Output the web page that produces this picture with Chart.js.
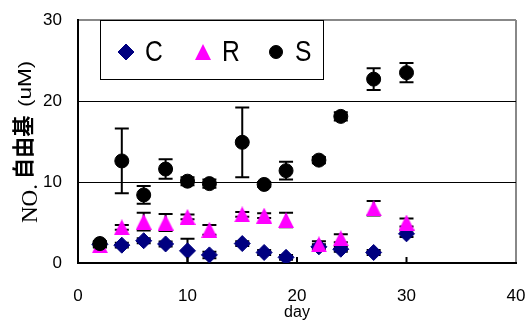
<!DOCTYPE html>
<html>
<head>
<meta charset="utf-8">
<script src="https://cdn.jsdelivr.net/npm/chart.js@4.4.1/dist/chart.umd.min.js"></script>
<style>
  html, body { margin: 0; padding: 0; background: #fff; }
  #wrap { width: 526px; height: 320px; }
</style>
</head>
<body>
<div id="wrap"><canvas id="chart" width="526" height="320"></canvas></div>
<script>
var days  = [2, 4, 6, 8, 10, 12, 15, 17, 19, 22, 24, 27, 30];
var cVals = [2.3, 2.2, 2.75, 2.35, 1.5, 1.0, 2.4, 1.3, 0.7, 2.0, 1.7, 1.3, 3.6];
var cErr  = [0.3, 0.3, 0.3, 0.3, 1.5, 0.4, 0.3, 0.3, 0.3, 0.3, 0.3, 0.3, 0.4];
var rVals = [2.2, 4.4, 5.1, 5.0, 5.7, 4.1, 6.0, 5.85, 5.3, 2.3, 3.05, 6.75, 5.0];
var rErr  = [0.3, 0.3, 1.1, 1.05, 0.3, 0.6, 0.3, 0.3, 0.9, 0.4, 0.5, 0.9, 0.5];
var sVals = [2.4, 12.6, 8.4, 11.6, 10.1, 9.8, 14.9, 9.7, 11.4, 12.7, 18.1, 22.7, 23.5];
var sErr  = [0.3, 4.0, 1.1, 1.2, 0.5, 0.5, 4.3, 0.3, 1.1, 0.4, 0.5, 1.35, 1.2];
var xTicks = [0, 10, 20, 30, 40];
var yTicks = [0, 10, 20, 30];

function points(vals, errs){
    var out = [];
    for(var i = 0; i < days.length; i++){
        out.push({x: days[i], y: vals[i], err: errs[i]});
    }
    return out;
}

// the R marker is a bit taller than an equilateral triangle
function makeTriangle(){
    var c = document.createElement('canvas');
    c.width = 16; c.height = 16;
    var g = c.getContext('2d');
    g.fillStyle = '#ff00ff';
    g.beginPath();
    g.moveTo(8, 0);
    g.lineTo(16, 16);
    g.lineTo(0, 16);
    g.closePath();
    g.fill();
    return c;
}
var triangleImg = makeTriangle();

// error bars, drawn under the markers
var errorBars = {
    id: 'errorBars',
    beforeDatasetsDraw: function(chart){
        var ctx = chart.ctx;
        var xs = chart.scales.x, ys = chart.scales.y;
        ctx.save();
        ctx.strokeStyle = '#000';
        ctx.lineWidth = 2;
        chart.data.datasets.forEach(function(ds){
            ds.data.forEach(function(p){
                var px = xs.getPixelForValue(p.x);
                var top = ys.getPixelForValue(p.y + p.err);
                var bot = ys.getPixelForValue(Math.max(0, p.y - p.err));
                ctx.beginPath();
                ctx.moveTo(px, top); ctx.lineTo(px, bot);
                ctx.moveTo(px - 7, top); ctx.lineTo(px + 7, top);
                ctx.moveTo(px - 7, bot); ctx.lineTo(px + 7, bot);
                ctx.stroke();
            });
        });
        ctx.restore();
    }
};

// legend box, y axis title, inner ticks
var decorations = {
    id: 'decorations',
    afterDraw: function(chart){
        var ctx = chart.ctx;
        var area = chart.chartArea;
        var xs = chart.scales.x;
        ctx.save();

        ctx.strokeStyle = '#000';
        ctx.lineWidth = 2;
        [10, 20, 30].forEach(function(v){
            var px = xs.getPixelForValue(v);
            ctx.beginPath();
            ctx.moveTo(px, area.bottom);
            ctx.lineTo(px, area.bottom - 6);
            ctx.stroke();
        });

        // legend
        ctx.fillStyle = '#fff';
        ctx.fillRect(100, 20, 223, 59);
        ctx.lineWidth = 1;
        ctx.strokeStyle = '#000';
        ctx.strokeRect(100.5, 20.5, 223, 59);
        var items = [
            {label: 'C', style: 'rectRot', color: '#000080', r: 8, x: 126},
            {label: 'R', style: triangleImg, color: '#ff00ff', r: 8, x: 203},
            {label: 'S', style: 'circle', color: '#000', r: 6.5, x: 276}
        ];
        items.forEach(function(it){
            ctx.fillStyle = it.color;
            ctx.strokeStyle = it.color;
            Chart.helpers.drawPoint(ctx, {pointStyle: it.style, radius: it.r, borderWidth: 1}, it.x, 52);
            ctx.fillStyle = '#000';
            ctx.font = '29px "Liberation Sans", Arial, sans-serif';
            ctx.textBaseline = 'middle';
            ctx.textAlign = 'left';
            ctx.save();
            ctx.translate(it.x + 19, 53);
            ctx.scale(0.85, 1);
            ctx.fillText(it.label, 0, 0);
            ctx.restore();
        });

        // y axis title in mixed fonts
        var parts = [
            {text: 'NO.', font: '23px "Liberation Serif", "Times New Roman", serif', x: 31, y: 223, sx: 1},
            {text: '自由基', font: 'bold 22px "Noto Sans CJK SC", sans-serif', x: 23, y: 179, sx: 0.96},
            {text: '(uM)', font: '18px "Liberation Sans", Arial, sans-serif', x: 26, y: 107, sx: 1.25}
        ];
        ctx.fillStyle = '#000';
        ctx.textBaseline = 'middle';
        ctx.textAlign = 'left';
        parts.forEach(function(p){
            ctx.save();
            ctx.translate(p.x, p.y);
            ctx.rotate(-Math.PI / 2);
            ctx.scale(p.sx, 1);
            ctx.font = p.font;
            ctx.fillText(p.text, 0, 0);
            ctx.restore();
        });
        ctx.restore();
    }
};

var ctx = document.getElementById('chart').getContext('2d');
var chart = new Chart(ctx, {
    type: 'scatter',
    data: {
        datasets: [
            {label: 'C', data: points(cVals, cErr), pointStyle: 'rectRot', pointRadius: 8,
             backgroundColor: '#000080', borderColor: '#000080', borderWidth: 1, order: 3},
            {label: 'R', data: points(rVals, rErr), pointStyle: triangleImg, pointRadius: 8,
             backgroundColor: '#ff00ff', borderColor: '#ff00ff', borderWidth: 1, order: 2},
            {label: 'S', data: points(sVals, sErr), pointStyle: 'circle', pointRadius: 7,
             backgroundColor: '#000', borderColor: '#000', borderWidth: 1, order: 1}
        ]
    },
    options: {
        responsive: false,
        animation: false,
        events: [],
        layout: {padding: {left: 0, top: 20, right: 10, bottom: 0}},
        plugins: {legend: {display: false}, tooltip: {enabled: false}},
        scales: {
            x: {
                type: 'linear', min: 0, max: 40,
                afterFit: function(s){ s.height = 57; s.paddingLeft = 0; s.paddingRight = 0; },
                afterBuildTicks: function(s){ s.ticks = xTicks.map(function(v){ return {value: v}; }); },
                border: {color: '#000', width: 2},
                grid: {
                    drawTicks: false, lineWidth: 2,
                    color: function(c){ return c.tick && c.tick.value === 40 ? '#888' : 'rgba(0,0,0,0)'; }
                },
                ticks: {padding: 23, color: '#000', font: {family: '"Liberation Sans", Arial, sans-serif', size: 17}},
                title: {display: true, text: 'day', color: '#000', padding: {top: 0, bottom: -2},
                        font: {family: '"Liberation Sans", Arial, sans-serif', size: 16}}
            },
            y: {
                type: 'linear', min: 0, max: 30,
                afterFit: function(s){ s.width = 78; s.paddingTop = 0; s.paddingBottom = 0; },
                afterBuildTicks: function(s){ s.ticks = yTicks.map(function(v){ return {value: v}; }); },
                border: {color: '#000', width: 2},
                grid: {
                    drawTicks: false,
                    lineWidth: function(c){ return c.tick && c.tick.value === 30 ? 2 : 1; },
                    color: function(c){
                        if(!c.tick) return 'rgba(0,0,0,0)';
                        if(c.tick.value === 30) return '#888';
                        if(c.tick.value === 10 || c.tick.value === 20) return '#000';
                        return 'rgba(0,0,0,0)';
                    }
                },
                ticks: {padding: 16, color: '#000', font: {family: '"Liberation Sans", Arial, sans-serif', size: 17}}
            }
        }
    },
    plugins: [errorBars, decorations]
});
</script>
</body>
</html>
